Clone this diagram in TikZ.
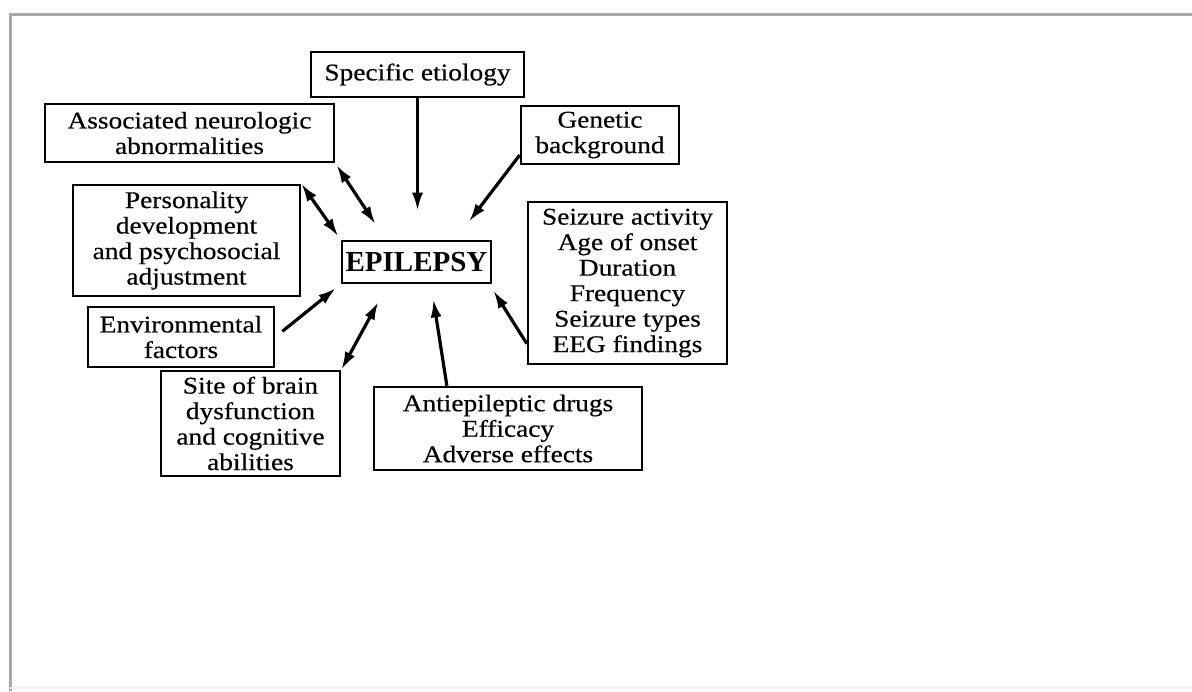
\documentclass[tikz,border=0pt]{standalone}
\usepackage{fontspec}
\setmainfont[FakeStretch=1.14, FakeBold=0.4]{Liberation Serif}
\newfontfamily\epifont{Liberation Serif}
\usetikzlibrary{arrows.meta}
\usepackage{xcolor}
\definecolor{framegray}{HTML}{A9A9A9}

\begin{document}
\begin{tikzpicture}[x=0.5pt, y=-0.5pt,
		box/.style={draw, line width=1.3pt, align=center, inner sep=0pt, font=\fontsize{12}{12.75}\selectfont},
		arr/.style={line width=1.6pt, -{Latex[length=9pt, width=5.5pt]}},
		darr/.style={line width=1.6pt, {Latex[length=9pt, width=5.5pt]}-{Latex[length=9pt, width=5.5pt]}},
	]
		\useasboundingbox (0,0) rectangle (1192,691);
		\draw[framegray, line width=1.5pt] (1192,14) -- (10,14) -- (10,691);
		\draw[gray!12, line width=1pt] (10,688) -- (1192,688);

		\node[box, minimum width=74.5pt, minimum height=21pt, font=\epifont\fontsize{14.5}{16}\selectfont\bfseries] (epi) at (416.5,262) {EPILEPSY};

		\node[box, minimum width=106.5pt, minimum height=22.5pt] (spec) at (417.5,74.5) {Specific etiology};
		\node[box, minimum width=144.5pt, minimum height=29pt] (assoc) at (189.5,133) {Associated neurologic\\abnormalities};
		\node[box, minimum width=79pt, minimum height=29pt] (gen) at (600,135) {Genetic\\background};
		\node[box, minimum width=113.5pt, minimum height=55.5pt] (pers) at (186.5,240.5) {Personality\\development\\and psychosocial\\adjustment};
		\node[box, minimum width=99.5pt, minimum height=81pt] (seiz) at (627.5,283) {Seizure activity\\Age of onset\\Duration\\Frequency\\Seizure types\\EEG findings};
		\node[box, minimum width=93pt, minimum height=30pt] (env) at (181,337) {Environmental\\factors};
		\node[box, minimum width=89.5pt, minimum height=52.5pt] (site) at (250.5,423.5) {Site of brain\\dysfunction\\and cognitive\\abilities};
		\node[box, minimum width=134pt, minimum height=41.5pt] (anti) at (508,428.5) {Antiepileptic drugs\\Efficacy\\Adverse effects};

		% arrows stop short of the EPILEPSY box
		\draw[arr, shorten >=14.5pt] (spec.south) -- (spec.south |- epi.north);
		\draw[arr, shorten >=11.4pt] (gen.194) -- (epi.30);
		\draw[darr, shorten <=1pt, shorten >=9.3pt] (assoc.south east) -- (epi.144);
		\draw[darr, shorten >=2pt] (pers.north east) -- (epi.north west);
		\draw[arr, shorten <=4.5pt, shorten >=3pt] (env.east) -- (epi.south west);
		\draw[darr, shorten >=10pt] (site.north east) -- (epi.218);
		\draw[arr, shorten >=7.6pt] (anti.145) -- (epi.303);
		\draw[arr, shorten >=3.7pt] (seiz.211) -- (epi.343);
	\end{tikzpicture}
\end{document}
